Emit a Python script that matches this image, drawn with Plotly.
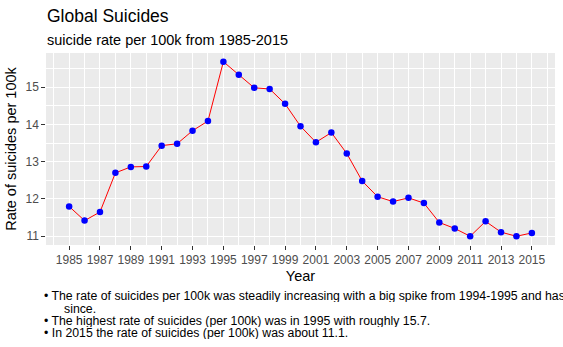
import plotly.graph_objects as go

years = list(range(1985, 2016))
rates = [11.80, 11.42, 11.65, 12.70, 12.86, 12.87, 13.43, 13.48, 13.83, 14.09,
         15.68, 15.33, 14.98, 14.95, 14.55, 13.95, 13.52, 13.78, 13.22, 12.48,
         12.06, 11.93, 12.03, 11.89, 11.37, 11.21, 11.00, 11.40, 11.11, 11.00, 11.09]
x_ticks = list(range(1985, 2016, 2))
y_ticks = [11, 12, 13, 14, 15]

title = "Global Suicides"
subtitle = "suicide rate per 100k from 1985-2015"
x_title = "Year"
y_title = "Rate of suicides per 100k"
caption_lines = [
    "• The rate of suicides per 100k was steadily increasing with a big spike from 1994-1995 and has been decreasing ever",
    "since.",
    "• The highest rate of suicides (per 100k) was in 1995 with roughly 15.7.",
    "• In 2015 the rate of suicides (per 100k) was about 11.1.",
]

W, H = 563, 347
L, R, T, B = 45.7, 555, 53, 245
pw, ph = R - L, B - T

def px(xp):
    return (xp - L) / pw

def py(yp):
    return (B - yp) / ph

FONT = "Liberation Sans, Arial, sans-serif"

fig = go.Figure()
fig.add_trace(go.Scatter(
    x=years, y=rates, mode="lines+markers",
    line=dict(color="red", width=1),
    marker=dict(color="blue", size=6.5),
    showlegend=False,
))

ymin, ymax = min(rates), max(rates)
yr = ymax - ymin

fig.update_layout(
    width=W, height=H,
    margin=dict(l=L, r=W - R, t=T, b=H - B, pad=0),
    paper_bgcolor="white",
    plot_bgcolor="#EBEBEB",
    font=dict(family=FONT, color="black"),
    xaxis=dict(
        range=[1983.5, 2016.5],
        tickvals=x_ticks,
        ticktext=[str(v) for v in x_ticks],
        ticks="outside", ticklen=3.7, tickwidth=1, tickcolor="#333333",
        tickfont=dict(size=12, color="#4D4D4D", family=FONT),
        showgrid=True, gridcolor="white", gridwidth=1.4,
        minor=dict(dtick=1, tick0=1985, showgrid=True, gridcolor="white", gridwidth=0.7),
        zeroline=False, showline=False,
        title=dict(text=x_title, font=dict(size=14.5, color="black", family=FONT), standoff=4),
    ),
    yaxis=dict(
        range=[ymin - 0.05 * yr, ymax + 0.05 * yr],
        tickvals=y_ticks,
        ticks="outside", ticklen=3.7, tickwidth=1, tickcolor="#333333",
        tickfont=dict(size=12, color="#4D4D4D", family=FONT),
        showgrid=True, gridcolor="white", gridwidth=1.4,
        minor=dict(dtick=0.5, tick0=11, showgrid=True, gridcolor="white", gridwidth=0.7),
        zeroline=False, showline=False,
        title=dict(text=y_title, font=dict(size=14.5, color="black", family=FONT), standoff=5),
    ),
)

ann = []
ann.append(dict(text=title, x=px(46), y=py(16), xanchor="left", yanchor="middle",
                font=dict(size=17.5, color="black", family=FONT)))
ann.append(dict(text=subtitle, x=px(46), y=py(40), xanchor="left", yanchor="middle",
                font=dict(size=14.5, color="black", family=FONT)))
cap_pos = [(43, 296), (63, 308.5), (43, 321.3), (43, 333.4)]
for text, (xp, yp) in zip(caption_lines, cap_pos):
    ann.append(dict(text=text, x=px(xp), y=py(yp), xanchor="left", yanchor="middle",
                    height=12, font=dict(size=12.3, color="black", family=FONT)))
for a in ann:
    a.update(xref="paper", yref="paper", showarrow=False, align="left", borderpad=0)
fig.update_layout(annotations=ann)

fig.write_html("out.html")
